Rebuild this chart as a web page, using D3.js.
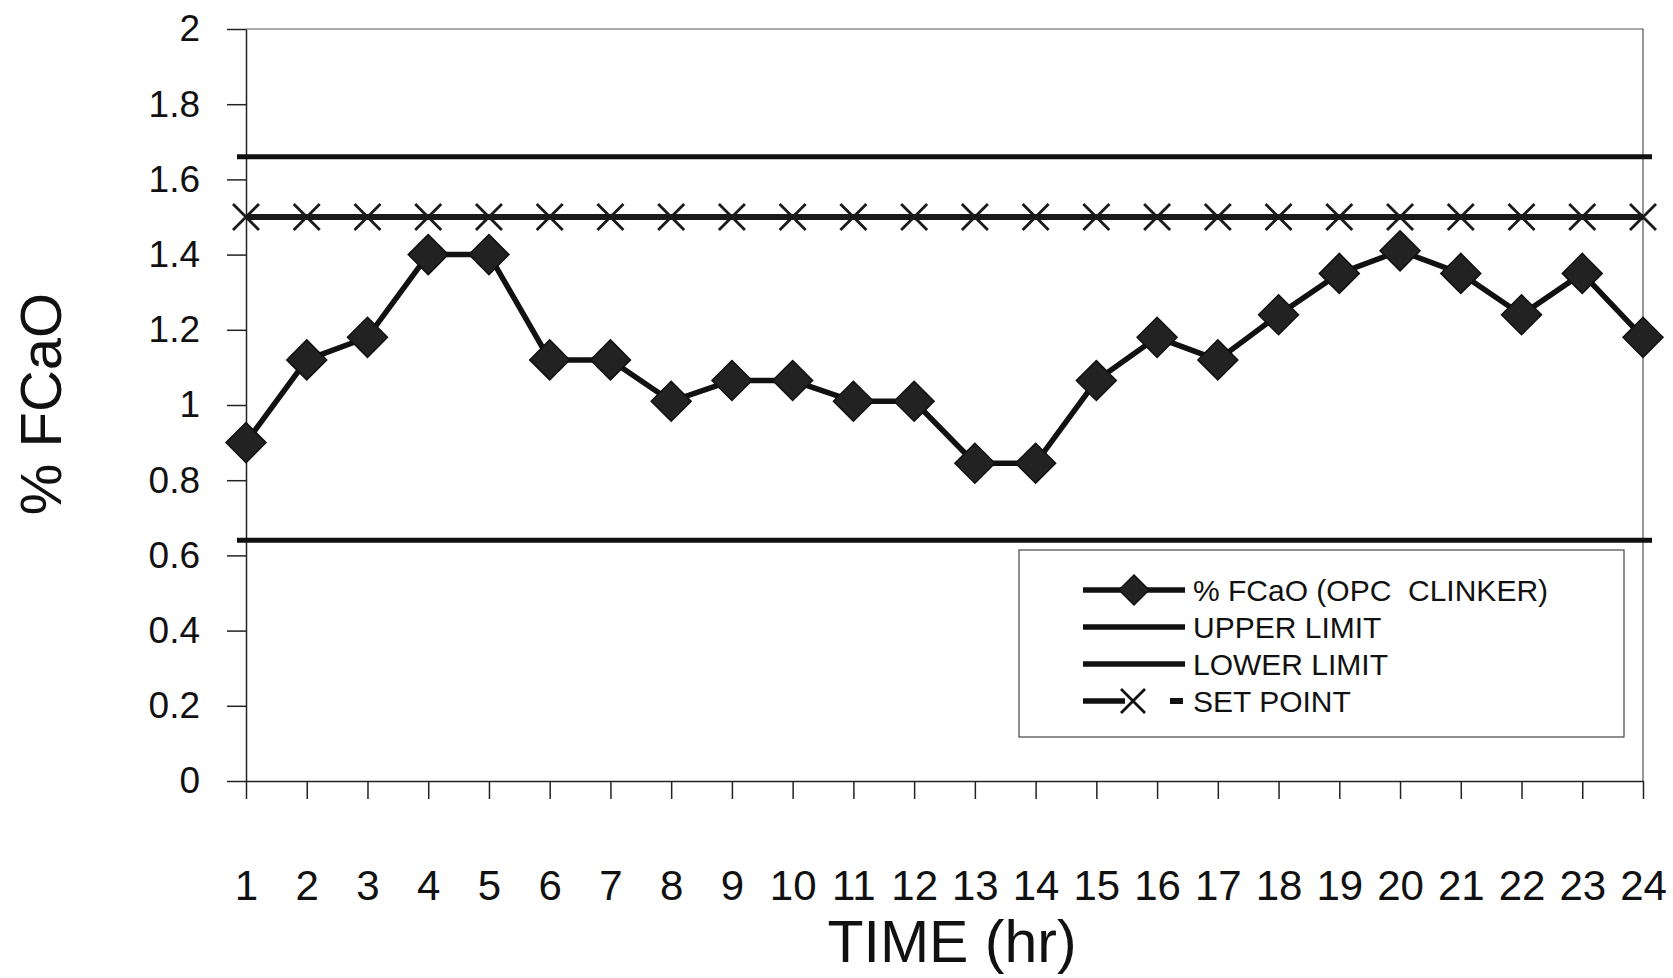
<!DOCTYPE html>
<html>
<head>
<meta charset="utf-8">
<script src="https://cdn.jsdelivr.net/npm/d3@7"></script>
<style>
  body { margin: 0; background: #fff; }
  text { font-family: "Liberation Sans", Arial, sans-serif; fill: #111; }
</style>
</head>
<body>
<div id="chart"></div>
<script>
// hours on the x axis
var hours = [1,2,3,4,5,6,7,8,9,10,11,12,13,14,15,16,17,18,19,20,21,22,23,24];
// % FCaO (OPC clinker) readings
var fcao = [0.90, 1.12, 1.18, 1.40, 1.40, 1.12, 1.12, 1.01, 1.065, 1.065, 1.01, 1.01,
            0.845, 0.845, 1.065, 1.18, 1.12, 1.24, 1.35, 1.41, 1.35, 1.24, 1.35, 1.18];
var upperLimit = 1.66;
var lowerLimit = 0.64;
var setPoint = 1.5;
var yTicks = [0, 0.2, 0.4, 0.6, 0.8, 1, 1.2, 1.4, 1.6, 1.8, 2];
var legendLabels = ["% FCaO (OPC  CLINKER)", "UPPER LIMIT", "LOWER LIMIT", "SET POINT"];

var margin = {top: 29, right: 30, bottom: 197, left: 246},
    width = 1673 - margin.left - margin.right,
    height = 978 - margin.top - margin.bottom;

var svg = d3.select("#chart")
  .append("svg")
    .attr("width", 1673)
    .attr("height", 978)
  .append("g")
    .attr("transform", "translate(" + margin.left + "," + margin.top + ")");

var x = d3.scaleLinear()
  .domain([1, 24])
  .range([0, width]);

var y = d3.scaleLinear()
  .domain([0, 2])
  .range([height, 0]);

// thin frame on top and right
svg.append("path")
  .attr("d", "M0,0H" + width + "V" + height)
  .attr("fill", "none")
  .attr("stroke", "#555")
  .attr("stroke-width", 1.2);

var yAxis = svg.append("g")
  .call(d3.axisLeft(y).tickValues(yTicks).tickSize(19).tickSizeOuter(0).tickPadding(27)
    .tickFormat(function(d) { return String(d); }));
yAxis.selectAll("text").style("font-size", "37px");
yAxis.selectAll("line, path").attr("stroke", "#222").attr("stroke-width", 1.5);

var xAxis = svg.append("g")
  .attr("transform", "translate(0," + height + ")")
  .call(d3.axisBottom(x).tickValues(hours).tickSize(18).tickSizeOuter(0).tickPadding(71)
    .tickFormat(d3.format("d")));
xAxis.selectAll("text").style("font-size", "42px");
xAxis.selectAll("line, path").attr("stroke", "#222").attr("stroke-width", 1.5);

// limit lines
[upperLimit, lowerLimit].forEach(function(v) {
  svg.append("line")
    .attr("x1", x(1) - 9).attr("x2", x(24) + 9)
    .attr("y1", y(v)).attr("y2", y(v))
    .attr("stroke", "#111")
    .attr("stroke-width", 5);
});

// set point line with X markers
svg.append("line")
  .attr("x1", x(1)).attr("x2", x(24))
  .attr("y1", y(setPoint)).attr("y2", y(setPoint))
  .attr("stroke", "#1a1a1a")
  .attr("stroke-width", 6);

function cross(cx, cy, r) {
  return "M" + (cx - r) + "," + (cy - r) + "L" + (cx + r) + "," + (cy + r) +
         "M" + (cx - r) + "," + (cy + r) + "L" + (cx + r) + "," + (cy - r);
}
function diamond(cx, cy, r) {
  return "M" + cx + "," + (cy - r) + "L" + (cx + r) + "," + cy + "L" + cx + "," + (cy + r) +
         "L" + (cx - r) + "," + cy + "Z";
}

svg.selectAll(".sp")
  .data(hours)
  .enter()
  .append("path")
    .attr("d", function(d) { return cross(x(d), y(setPoint), 13); })
    .attr("stroke", "#1a1a1a")
    .attr("stroke-width", 2.8)
    .attr("fill", "none");

// FCaO series
var line = d3.line()
  .x(function(d, i) { return x(hours[i]); })
  .y(function(d) { return y(d); });

svg.append("path")
  .datum(fcao)
  .attr("d", line)
  .attr("fill", "none")
  .attr("stroke", "#111")
  .attr("stroke-width", 5.5);

svg.selectAll(".pt")
  .data(fcao)
  .enter()
  .append("path")
    .attr("d", function(d, i) { return diamond(x(hours[i]), y(d), 20); })
    .attr("fill", "#222")
    .attr("stroke", "#111")
    .attr("stroke-width", 1.5);

// legend
var lg = svg.append("g")
  .attr("transform", "translate(" + (1019 - margin.left) + "," + (550 - margin.top) + ")");
lg.append("rect")
  .attr("width", 605)
  .attr("height", 187)
  .attr("fill", "#fff")
  .attr("stroke", "#444")
  .attr("stroke-width", 1.2);

var rows = [40, 77, 114, 151];
legendLabels.forEach(function(label, i) {
  var ry = rows[i];
  if (i === 3) {
    lg.append("line").attr("x1", 64).attr("x2", 106).attr("y1", ry).attr("y2", ry)
      .attr("stroke", "#111").attr("stroke-width", 5.5);
    lg.append("path").attr("d", cross(114, ry, 12))
      .attr("stroke", "#111").attr("stroke-width", 2.8).attr("fill", "none");
    lg.append("line").attr("x1", 151).attr("x2", 164).attr("y1", ry).attr("y2", ry)
      .attr("stroke", "#111").attr("stroke-width", 6);
  } else {
    lg.append("line").attr("x1", 64).attr("x2", 166).attr("y1", ry).attr("y2", ry)
      .attr("stroke", "#111").attr("stroke-width", 5.5);
  }
  if (i === 0) {
    lg.append("path").attr("d", diamond(115, ry, 15))
      .attr("fill", "#222").attr("stroke", "#111").attr("stroke-width", 1.5);
  }
  lg.append("text")
    .attr("x", 174)
    .attr("y", ry + 11)
    .style("font-size", "30px")
    .style("white-space", "pre")
    .text(label);
});

// axis titles
svg.append("text")
  .attr("x", 952 - margin.left)
  .attr("y", 962 - margin.top)
  .style("text-anchor", "middle")
  .style("font-size", "59px")
  .text("TIME (hr)");

svg.append("text")
  .attr("transform", "translate(" + (61 - margin.left) + "," + (404 - margin.top) + ")rotate(-90)")
  .style("text-anchor", "middle")
  .style("font-size", "58px")
  .text("% FCaO");
</script>
</body>
</html>
